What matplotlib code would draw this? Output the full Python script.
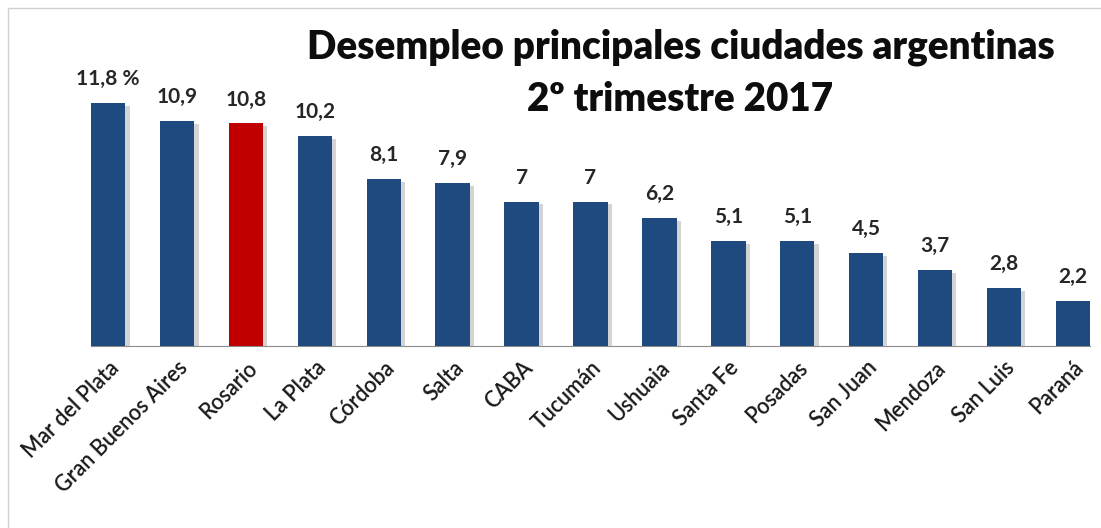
import matplotlib
matplotlib.use("Agg")
import matplotlib.pyplot as plt
import matplotlib.patheffects as pe
from matplotlib.patches import Rectangle

# data
cities = ["Mar del Plata", "Gran Buenos Aires", "Rosario", "La Plata", "Córdoba",
          "Salta", "CABA", "Tucumán", "Ushuaia", "Santa Fe", "Posadas",
          "San Juan", "Mendoza", "San Luis", "Paraná"]
desempleo = [11.8, 10.9, 10.8, 10.2, 8.1, 7.9, 7.0, 7.0, 6.2, 5.1, 5.1, 4.5, 3.7, 2.8, 2.2]
highlight = "Rosario"
title_lines = ["Desempleo principales ciudades argentinas", "2º trimestre 2017"]

BLUE = "#1f4a7f"
RED = "#c00000"

plt.rcParams['font.family'] = ['Lato', 'DejaVu Sans']

fig = plt.figure(figsize=(11.01, 5.28), dpi=100)
ax = fig.add_axes([91 / 1101, 1 - 346 / 528, 999 / 1101, 336 / 528])

colors = [RED if c == highlight else BLUE for c in cities]
x = list(range(len(cities)))
bars = ax.bar(x, desempleo, width=0.5, color=colors, zorder=3)
for b in bars:
    b.set_path_effects([pe.SimplePatchShadow(offset=(3, -2), shadow_rgbFace="#a0a0a0", alpha=0.45),
                        pe.Normal()])

def fmt(v, i):
    s = ("%g" % v).replace(".", ",")
    return s + " %" if i == 0 else s

for i, (b, v) in enumerate(zip(bars, desempleo)):
    ax.annotate(fmt(v, i), (b.get_x() + b.get_width() / 2, v), xytext=(0, 10),
                textcoords="offset points", ha="center", va="bottom",
                fontsize=15, fontweight="bold", color="#262626")

ax.set_xlim(-0.25, len(cities) - 0.75)
ax.set_ylim(0, 16.3)
for s in ["top", "right", "left"]:
    ax.spines[s].set_visible(False)
ax.spines["bottom"].set_color("#8c8c8c")
ax.set_yticks([])
ax.set_xticks(x)
ax.set_xticklabels(cities, rotation=45, ha="right", va="top", rotation_mode="anchor",
                   fontsize=15.5, fontweight="semibold", color="#1a1a1a")
ax.tick_params(axis="x", length=0, pad=8)

# title, one text per line
for yy, line in zip([0.911, 0.812], title_lines):
    fig.text(0.618, yy, line, ha="center", va="center", fontsize=27.8,
             fontweight="heavy", color="#0d0d0d")

# light frame around the picture
fig.patches.append(Rectangle((8 / 1101, -0.1), 1.2, 1.1 - 8 / 528,
                             transform=fig.transFigure, fill=False,
                             edgecolor="#d0d0d0", linewidth=1))

fig.savefig("out.png", dpi=100)
